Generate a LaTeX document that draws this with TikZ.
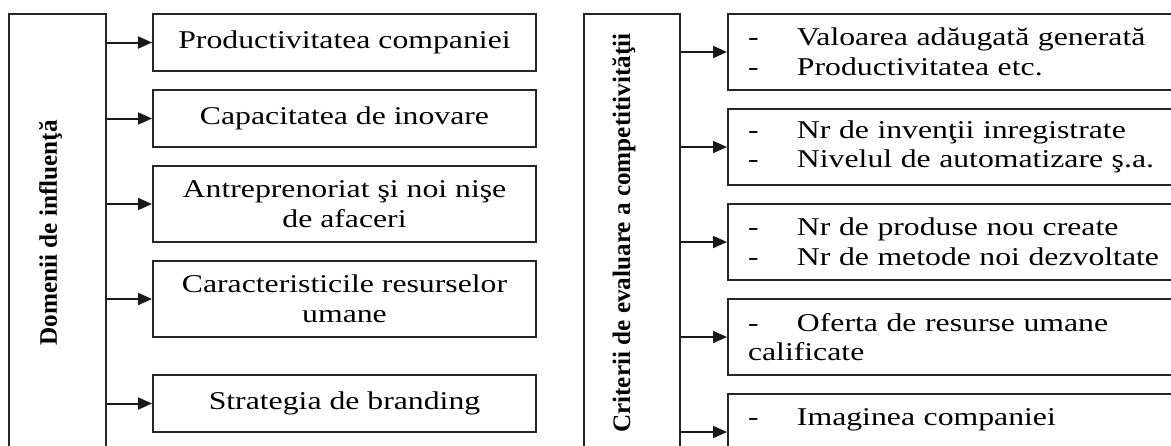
\documentclass[tikz,border=0pt]{standalone}
\usepackage{fontspec}
\setmainfont[FakeStretch=1.24]{Liberation Serif}
\newfontfamily\headfont{Liberation Serif}
\usetikzlibrary{arrows.meta}

\begin{document}
\begin{tikzpicture}[x=0.5pt, y=-0.5pt, line join=miter, >={Triangle[length=7pt,width=6pt]},
    font=\fontsize{12.8pt}{14.8pt}\selectfont]
  \tikzset{
    frame/.style={draw=black!85, line width=1pt, inner sep=0pt},
    tallbox/.style={frame, minimum width=48.5pt, minimum height=219pt},
    leftbox/.style={frame, minimum width=191.5pt, align=center},
    rightbox/.style={frame, minimum width=235pt, minimum height=38pt, inner xsep=10pt,
      text width=215pt, align=left},
    conn/.style={->, draw=black!90, line width=1pt},
    headlabel/.style={rotate=90, font=\headfont\bfseries\fontsize{12.6pt}{14pt}\selectfont}
  }
  \newcommand{\dash}{\makebox[24.5pt][l]{-}}
  \clip (0,0) rectangle (1171,445);

  % domenii de influenta
  \node[tallbox] (dom) at (57.5,233) {};
  \node[headlabel] (domlbl) at ([xshift=-3.5pt]dom.center) {Domenii de influenţă};
  \node[leftbox, minimum height=28.5pt] (d1) at (344.5,42.5) {Productivitatea companiei};
  \node[leftbox, minimum height=28.5pt] (d2) at (344.5,118.5) {Capacitatea de inovare};
  \node[leftbox, minimum height=38pt] (d3) at (344.5,204) {Antreprenoriat şi noi nişe\\de afaceri};
  \node[leftbox, minimum height=38pt] (d4) at (344.5,299) {Caracteristicile resurselor\\umane};
  \node[leftbox, minimum height=28.5pt] (d5) at (344.5,403.5) {Strategia de branding};
  \foreach \i in {1,...,5}
    \draw[conn] (dom.east |- d\i.west) -- (d\i.west);

  % criterii de evaluare
  \node[tallbox, minimum width=48pt] (crit) at (632,233) {};
  \node[headlabel] (critlbl) at ([xshift=-4pt]crit.center) {Criterii de evaluare a competitivităţii};
  \node[rightbox] (c1) at (963,52) {\dash Valoarea adăugată generată\\\dash Productivitatea etc.};
  \node[rightbox] (c2) at (963,147) {\dash Nr de invenţii inregistrate\\\dash Nivelul de automatizare ş.a.};
  \node[rightbox] (c3) at (963,242) {\dash Nr de produse nou create\\\dash Nr de metode noi dezvoltate};
  \node[rightbox] (c4) at (963,337) {\dash Oferta de resurse umane\\calificate};
  \node[rightbox] (c5) at (963,432) {\dash Imaginea companiei\\\mbox{}};
  \foreach \i in {1,...,5}
    \draw[conn] (crit.east |- c\i.west) -- (c\i.west);
\end{tikzpicture}
\end{document}
